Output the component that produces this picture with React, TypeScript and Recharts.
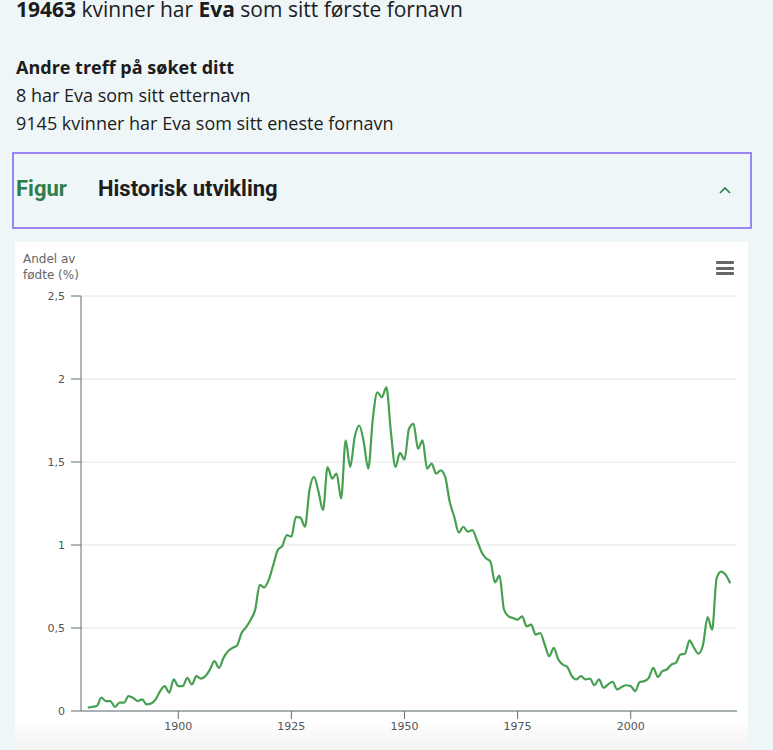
import { CartesianGrid, Line, LineChart, XAxis, YAxis } from "recharts";

const startYear = 1880;

// Andel av fødte (%) per år, 1880–2022
const andel = [
    0.02, 0.025, 0.03, 0.08, 0.06, 0.06, 0.025, 0.05, 0.05, 0.09,
    0.08, 0.06, 0.07, 0.04, 0.045, 0.07, 0.12, 0.15, 0.11, 0.19,
    0.15, 0.15, 0.2, 0.16, 0.21, 0.195, 0.21, 0.25, 0.3, 0.26,
    0.32, 0.36, 0.38, 0.395, 0.47, 0.505, 0.55, 0.61, 0.76, 0.745,
    0.79, 0.88, 0.97, 0.995, 1.06, 1.05, 1.17, 1.165, 1.11, 1.33,
    1.41, 1.32, 1.21, 1.47, 1.4, 1.43, 1.28, 1.63, 1.47, 1.65,
    1.72, 1.62, 1.46, 1.76, 1.92, 1.89, 1.95, 1.68, 1.47, 1.555,
    1.515, 1.7, 1.73, 1.58, 1.63, 1.46, 1.49, 1.43, 1.45, 1.41,
    1.26, 1.17, 1.075, 1.11, 1.08, 1.09, 1.03, 0.96, 0.92, 0.9,
    0.775, 0.815, 0.61, 0.57, 0.56, 0.55, 0.57, 0.51, 0.52, 0.46,
    0.47, 0.4, 0.33, 0.38, 0.31, 0.28, 0.265, 0.21, 0.19, 0.21,
    0.19, 0.195, 0.155, 0.19, 0.14, 0.16, 0.175, 0.13, 0.145, 0.155,
    0.15, 0.12, 0.175, 0.18, 0.2, 0.26, 0.205, 0.24, 0.25, 0.28,
    0.29, 0.34, 0.345, 0.425, 0.38, 0.345, 0.4, 0.565, 0.49, 0.8,
    0.84, 0.82, 0.77,
];

const xTicks = [1900, 1925, 1950, 1975, 2000];
const yTicks = [0, 0.5, 1, 1.5, 2, 2.5];

const data = andel.map((v, i) => ({ year: startYear + i, value: v }));

const axisColor = "#5f6e73";
const labelStyle = { fontSize: 11, fill: "#555", fontFamily: "DejaVu Sans" };

export default function App() {
    return (
        <div
            style={{
                position: "fixed",
                left: 0,
                top: 0,
                width: 773,
                height: 750,
                overflow: "hidden",
                background: "#eef6f8",
                fontFamily: "'Open Sans', sans-serif",
                color: "#1c1c1c",
            }}
        >
            <div style={{ position: "absolute", left: 16, top: -5, fontSize: 21, whiteSpace: "nowrap" }}>
                <b>19463</b> kvinner har <b>Eva</b> som sitt første fornavn
            </div>
            <div style={{ position: "absolute", left: 16, top: 53, fontSize: 18, lineHeight: "28px" }}>
                <div style={{ fontWeight: 700 }}>Andre treff på søket ditt</div>
                <div>8 har Eva som sitt etternavn</div>
                <div>9145 kvinner har Eva som sitt eneste fornavn</div>
            </div>

            <div
                style={{
                    position: "absolute",
                    left: 12,
                    top: 152,
                    width: 736,
                    height: 73,
                    border: "2px solid #9a86f2",
                    fontFamily: "Roboto, sans-serif",
                    fontWeight: 700,
                    fontSize: 22,
                }}
            >
                <span style={{ position: "absolute", left: 2, top: 22, color: "#2f7d4b" }}>Figur</span>
                <span style={{ position: "absolute", left: 84, top: 22, color: "#1d1d1d" }}>
                    Historisk utvikling
                </span>
                <svg style={{ position: "absolute", left: 704, top: 31 }} width="14" height="10">
                    <polyline points="2,8 7,3 12,8" fill="none" stroke="#2f7d4b" strokeWidth="1.6" />
                </svg>
            </div>

            <div style={{ position: "absolute", left: 15, top: 242, width: 733, height: 508, background: "#fff" }}>
                <div
                    style={{
                        position: "absolute",
                        left: 8,
                        top: 9,
                        fontFamily: "DejaVu Sans",
                        fontSize: 12,
                        lineHeight: "16px",
                        color: "#666",
                    }}
                >
                    Andel av
                    <br />
                    fødte (%)
                </div>
                <div style={{ position: "absolute", left: 701, top: 19, width: 18 }}>
                    {[0, 1, 2].map((i) => (
                        <div
                            key={i}
                            style={{ height: 3, background: "#666", marginBottom: 2.7, borderRadius: 1 }}
                        />
                    ))}
                </div>
                <LineChart
                    width={733}
                    height={508}
                    data={data}
                    margin={{ top: 54, right: 11, left: 0, bottom: 0 }}
                >
                    <CartesianGrid vertical={false} stroke="#e6e6e6" />
                    <XAxis
                        dataKey="year"
                        type="number"
                        domain={[1878.5, 2023.5]}
                        ticks={xTicks}
                        allowDataOverflow
                        height={39}
                        tickSize={8}
                        tickMargin={3}
                        stroke={axisColor}
                        tick={labelStyle}
                    />
                    <YAxis
                        domain={[0, 2.5]}
                        ticks={yTicks}
                        width={66}
                        tickSize={10}
                        tickMargin={6}
                        stroke={axisColor}
                        tick={labelStyle}
                        tickFormatter={(v: number) => String(v).replace(".", ",")}
                    />
                    <Line
                        type="monotone"
                        dataKey="value"
                        stroke="#47a051"
                        strokeWidth={2.2}
                        dot={false}
                        isAnimationActive={false}
                    />
                </LineChart>
                <div
                    style={{
                        position: "absolute",
                        left: 0,
                        right: 0,
                        bottom: 0,
                        height: 30,
                        background: "linear-gradient(rgba(0,0,0,0), rgba(0,0,0,0.05))",
                        pointerEvents: "none",
                    }}
                />
            </div>
        </div>
    );
}
